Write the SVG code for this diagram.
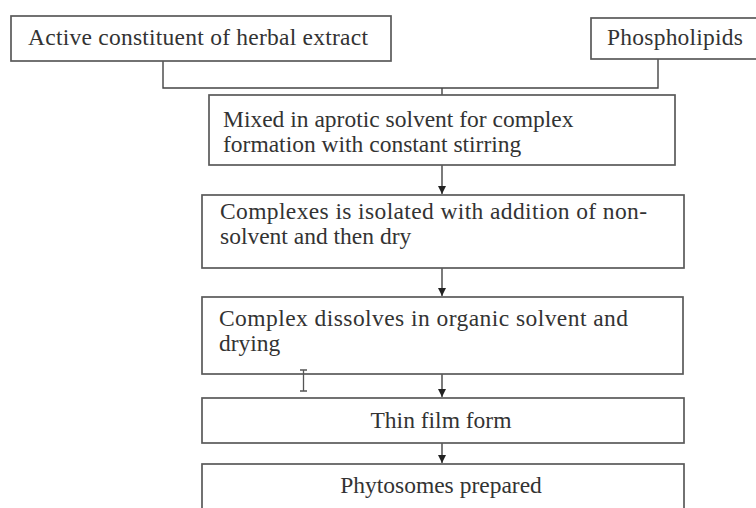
<svg xmlns="http://www.w3.org/2000/svg" width="756" height="508" viewBox="0 0 756 508">
<style>
.box{fill:#fff;stroke:#5a5a5a;stroke-width:1.7}
.t{font-family:"Liberation Serif","Times New Roman",serif;font-size:23.5px;fill:#333}
.c{fill:none;stroke:#444;stroke-width:1.4}
</style>
<defs>
<marker id="ah" viewBox="0 0 10 10" refX="10" refY="5" markerWidth="8" markerHeight="8" markerUnits="userSpaceOnUse" orient="auto">
<path d="M0,0 L10,5 L0,10 z" fill="#222"/>
</marker>
</defs>
<rect width="756" height="508" fill="#fff"/>
<g id="connectors">
<path class="c" d="M163,61 V88 H658 V59"/>
<path class="c" d="M442,88 V95"/>
<path class="c" d="M442,165 V194" marker-end="url(#ah)"/>
<path class="c" d="M442,268 V296" marker-end="url(#ah)"/>
<path class="c" d="M442,374 V397" marker-end="url(#ah)"/>
<path class="c" d="M442,443 V463" marker-end="url(#ah)"/>
</g>
<g id="n1">
<rect class="box" x="11" y="16" width="380" height="45"/>
<text class="t" x="28" y="45" textLength="340" lengthAdjust="spacing">Active constituent of herbal extract</text>
</g>
<g id="n2">
<rect class="box" x="591" y="18" width="170" height="41"/>
<text class="t" x="607" y="45" textLength="136" lengthAdjust="spacing">Phospholipids</text>
</g>
<g id="n3">
<rect class="box" x="209" y="95" width="466" height="70"/>
<text class="t" x="223" y="127">Mixed in aprotic solvent for complex</text>
<text class="t" x="223" y="152">formation with constant stirring</text>
</g>
<g id="n4">
<rect class="box" x="202" y="195" width="482" height="73"/>
<text class="t" x="220" y="219" textLength="427" lengthAdjust="spacing">Complexes is isolated with addition of non-</text>
<text class="t" x="220" y="244">solvent and then dry</text>
</g>
<g id="n5">
<rect class="box" x="202" y="297" width="481" height="77"/>
<text class="t" x="219" y="326" textLength="409" lengthAdjust="spacing">Complex dissolves in organic solvent and</text>
<text class="t" x="219" y="351">drying</text>
</g>
<g id="n6">
<rect class="box" x="202" y="398" width="482" height="45"/>
<text class="t" x="441" y="428" text-anchor="middle">Thin film form</text>
</g>
<g id="n7">
<rect class="box" x="202" y="464" width="482" height="60"/>
<text class="t" x="441" y="493" text-anchor="middle">Phytosomes prepared</text>
</g>
<path d="M300,370 H307 M303.5,370 V391 M300,391 H307" stroke="#555" stroke-width="1.3" fill="none"/>
</svg>
